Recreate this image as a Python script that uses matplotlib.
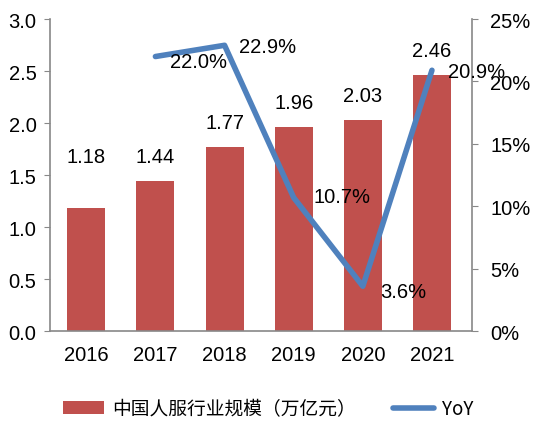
import matplotlib.pyplot as plt
import numpy as np

plt.rcParams['font.family'] = ['Liberation Sans', 'Noto Sans CJK SC', 'DejaVu Sans']

years = ['2016', '2017', '2018', '2019', '2020', '2021']
scale = [1.18, 1.44, 1.77, 1.96, 2.03, 2.46]
yoy_years = ['2017', '2018', '2019', '2020', '2021']
yoy = [22.0, 22.9, 10.7, 3.6, 20.9]

bar_color = '#C0504D'
line_color = '#4F81BD'
grey = '#888888'

fig = plt.figure(figsize=(5.47, 4.27), dpi=100)
ax = fig.add_axes([0.092, 0.222, 0.771, 0.731])
X = np.arange(len(years))
bars = ax.bar(X, scale, width=0.55, color=bar_color)
ax.set_xlim(-0.52, len(years) - 0.42)
ax.set_ylim(0, 3.0)
ax.set_yticks(np.arange(0, 3.01, 0.5))
ax.set_yticklabels(['%.1f' % v for v in np.arange(0, 3.01, 0.5)])
ax.set_xticks(X)
ax.set_xticklabels(years)
for s in ['top', 'right']:
    ax.spines[s].set_visible(False)
for s in ['left', 'bottom']:
    ax.spines[s].set_color(grey)
    ax.spines[s].set_linewidth(1.2)
ax.tick_params(axis='y', colors=grey, labelcolor='black', labelsize=14.5, length=4, pad=6)
ax.tick_params(axis='x', length=0, labelsize=14.5, pad=10)
# bar value labels (1.18 sits higher in the original)
bar_dy = [0.5, 0.24, 0.24, 0.24, 0.24, 0.24]
for i, v in enumerate(scale):
    ax.text(i, v + bar_dy[i], '%.2f' % v, ha='center', va='center', fontsize=14.5)

ax2 = ax.twinx()
xi = [years.index(y) for y in yoy_years]
line, = ax2.plot(xi, yoy, color=line_color, linewidth=4, solid_capstyle='round')
ax2.set_ylim(0, 25)
ax2.set_yticks(np.arange(0, 26, 5))
ax2.set_yticklabels(['%d%%' % v for v in np.arange(0, 26, 5)])
for s in ['top', 'left', 'bottom']:
    ax2.spines[s].set_visible(False)
ax2.spines['right'].set_color(grey)
ax2.spines['right'].set_linewidth(1.2)
ax2.tick_params(axis='y', colors=grey, labelcolor='black', labelsize=14.5, length=4, pad=9)
offsets = [(0.62, -0.4), (0.62, -0.1), (0.7, 0.1), (0.58, -0.4), (0.64, -0.1)]
for (x, y), (dx, dy) in zip(zip(xi, yoy), offsets):
    ax2.text(x + dx, y + dy, '%.1f%%' % y, ha='center', va='center', fontsize=14.5)

fig.legend([bars, line], ['中国人服行业规模（万亿元）', 'YoY'], loc='center',
           bbox_to_anchor=(0.49, 0.04), ncol=2, frameon=False,
           handlelength=2.2, handletextpad=0.4, columnspacing=2.0,
           prop={'family': ['Noto Sans CJK SC', 'DejaVu Sans'], 'size': 13.5})
fig.savefig('out.png', dpi=100)
